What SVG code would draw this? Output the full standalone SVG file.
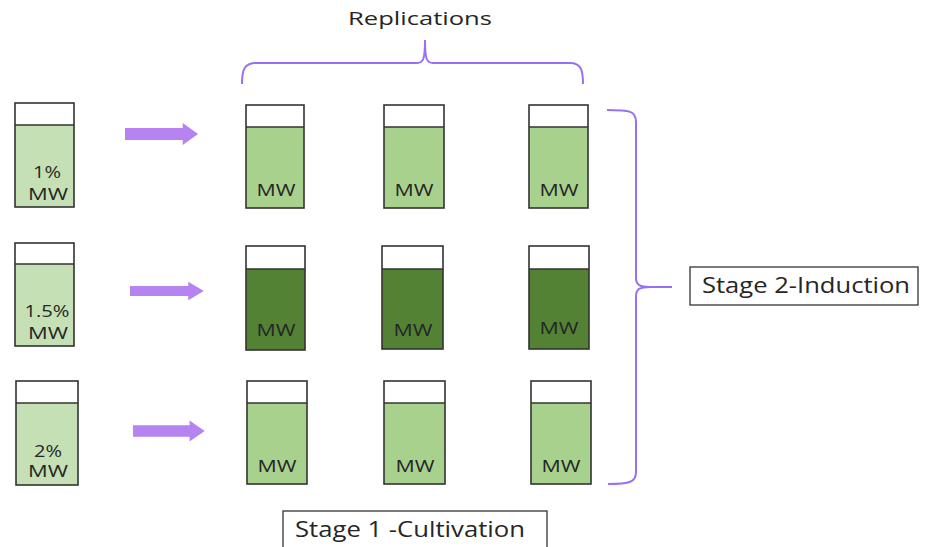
<svg xmlns="http://www.w3.org/2000/svg" width="933" height="547" viewBox="0 0 933 547">
<style>
.lbl{font-family:"Open Sans","Liberation Sans",sans-serif;fill:#262626}
.mw{font-size:16px;text-anchor:middle}
.big{font-size:21px}
.cap{fill:#fff}
.out{fill:none;stroke:#333;stroke-width:1.6}
.l1{fill:#C5E0B4}
.l2{fill:#A9D18E}
.l3{fill:#548235}
.arr{fill:#B584F1}
.br{fill:none;stroke:#9A70F2;stroke-width:2}
.box{fill:#fff;stroke:#333;stroke-width:1.3}
</style>
<defs>
<polygon id="arrow" points="0,-6 56,-6 56,-11 71,0 56,11 56,6 0,6"/>
</defs>
<!-- Row 1 -->
<g id="start1"><rect class="cap" x="15" y="103" width="59" height="22"/><rect class="l1" x="15" y="125" width="59" height="82"/><rect class="out" x="15" y="103" width="59" height="104"/><line class="out" x1="15" y1="125" x2="74" y2="125"/><text class="lbl mw" x="47" y="178" textLength="28" lengthAdjust="spacingAndGlyphs">1%</text><text class="lbl mw" x="48" y="200" textLength="40" lengthAdjust="spacingAndGlyphs">MW</text></g>
<g id="r1a"><rect class="cap" x="246" y="105" width="58" height="22"/><rect class="l2" x="246" y="127" width="58" height="81"/><rect class="out" x="246" y="105" width="58" height="103"/><line class="out" x1="246" y1="127" x2="304" y2="127"/><text class="lbl mw" x="276" y="196" textLength="39" lengthAdjust="spacingAndGlyphs">MW</text></g>
<g id="r1b"><rect class="cap" x="384" y="105" width="60" height="22"/><rect class="l2" x="384" y="127" width="60" height="81"/><rect class="out" x="384" y="105" width="60" height="103"/><line class="out" x1="384" y1="127" x2="444" y2="127"/><text class="lbl mw" x="414" y="196" textLength="39" lengthAdjust="spacingAndGlyphs">MW</text></g>
<g id="r1c"><rect class="cap" x="529" y="105" width="59" height="22"/><rect class="l2" x="529" y="127" width="59" height="81"/><rect class="out" x="529" y="105" width="59" height="103"/><line class="out" x1="529" y1="127" x2="588" y2="127"/><text class="lbl mw" x="559" y="196" textLength="39" lengthAdjust="spacingAndGlyphs">MW</text></g>
<!-- Row 2 -->
<g id="start2"><rect class="cap" x="15" y="243" width="59" height="21"/><rect class="l1" x="15" y="264" width="59" height="82"/><rect class="out" x="15" y="243" width="59" height="103"/><line class="out" x1="15" y1="264" x2="74" y2="264"/><text class="lbl mw" x="47" y="317" textLength="45" lengthAdjust="spacingAndGlyphs">1.5%</text><text class="lbl mw" x="48" y="339" textLength="40" lengthAdjust="spacingAndGlyphs">MW</text></g>
<g id="r2a"><rect class="cap" x="246" y="246" width="59" height="23"/><rect class="l3" x="246" y="269" width="59" height="81"/><rect class="out" x="246" y="246" width="59" height="104"/><line class="out" x1="246" y1="269" x2="305" y2="269"/><text class="lbl mw" x="276" y="336" textLength="39" lengthAdjust="spacingAndGlyphs">MW</text></g>
<g id="r2b"><rect class="cap" x="382" y="246" width="61" height="23"/><rect class="l3" x="382" y="269" width="61" height="80"/><rect class="out" x="382" y="246" width="61" height="103"/><line class="out" x1="382" y1="269" x2="443" y2="269"/><text class="lbl mw" x="413" y="336" textLength="39" lengthAdjust="spacingAndGlyphs">MW</text></g>
<g id="r2c"><rect class="cap" x="529" y="246" width="60" height="23"/><rect class="l3" x="529" y="269" width="60" height="80"/><rect class="out" x="529" y="246" width="60" height="103"/><line class="out" x1="529" y1="269" x2="589" y2="269"/><text class="lbl mw" x="559" y="334" textLength="39" lengthAdjust="spacingAndGlyphs">MW</text></g>
<!-- Row 3 -->
<g id="start3"><rect class="cap" x="16" y="381" width="62" height="22"/><rect class="l1" x="16" y="403" width="62" height="82"/><rect class="out" x="16" y="381" width="62" height="104"/><line class="out" x1="16" y1="403" x2="78" y2="403"/><text class="lbl mw" x="48" y="457" textLength="28" lengthAdjust="spacingAndGlyphs">2%</text><text class="lbl mw" x="48" y="477" textLength="40" lengthAdjust="spacingAndGlyphs">MW</text></g>
<g id="r3a"><rect class="cap" x="247" y="381" width="60" height="22"/><rect class="l2" x="247" y="403" width="60" height="81"/><rect class="out" x="247" y="381" width="60" height="103"/><line class="out" x1="247" y1="403" x2="307" y2="403"/><text class="lbl mw" x="277" y="472" textLength="39" lengthAdjust="spacingAndGlyphs">MW</text></g>
<g id="r3b"><rect class="cap" x="384" y="381" width="61" height="22"/><rect class="l2" x="384" y="403" width="61" height="81"/><rect class="out" x="384" y="381" width="61" height="103"/><line class="out" x1="384" y1="403" x2="445" y2="403"/><text class="lbl mw" x="415" y="472" textLength="39" lengthAdjust="spacingAndGlyphs">MW</text></g>
<g id="r3c"><rect class="cap" x="531" y="381" width="60" height="22"/><rect class="l2" x="531" y="403" width="60" height="81"/><rect class="out" x="531" y="381" width="60" height="103"/><line class="out" x1="531" y1="403" x2="591" y2="403"/><text class="lbl mw" x="561" y="472" textLength="39" lengthAdjust="spacingAndGlyphs">MW</text></g>
<!-- Connectors -->
<g id="connectors">
<use href="#arrow" class="arr" transform="translate(125,134) scale(1.03,1)"/>
<use href="#arrow" class="arr" transform="translate(130,291) scale(1.04,0.85)"/>
<use href="#arrow" class="arr" transform="translate(133,431) scale(1.01,0.95)"/>
</g>
<!-- Braces -->
<g id="brace-top">
<path class="br" d="M242,84 C242,70 244,63 256,63 L417,63 C423,63 425,60 425,40 C425,60 427,63 433,63 L570,63 C581,63 583,70 583,84"/>
</g>
<g id="brace-right">
<path class="br" d="M607,110 C630,110 636,111 636,122 L636,278 C636,285 640,287 650,287 L672,287 M650,287 C640,287 636,289 636,296 L636,472 C636,482 630,484 608,484"/>
</g>
<!-- Labels -->
<g id="replications"><text class="lbl" x="348" y="25" font-size="19" textLength="144" lengthAdjust="spacingAndGlyphs">Replications</text></g>
<g id="stage2"><rect class="box" x="690" y="267" width="228" height="38"/><text class="lbl big" x="702" y="293" textLength="208" lengthAdjust="spacingAndGlyphs">Stage 2-Induction</text></g>
<g id="stage1"><rect class="box" x="283" y="511" width="264" height="50"/><text class="lbl big" x="295" y="537" textLength="230" lengthAdjust="spacingAndGlyphs">Stage 1 -Cultivation</text></g>
</svg>
